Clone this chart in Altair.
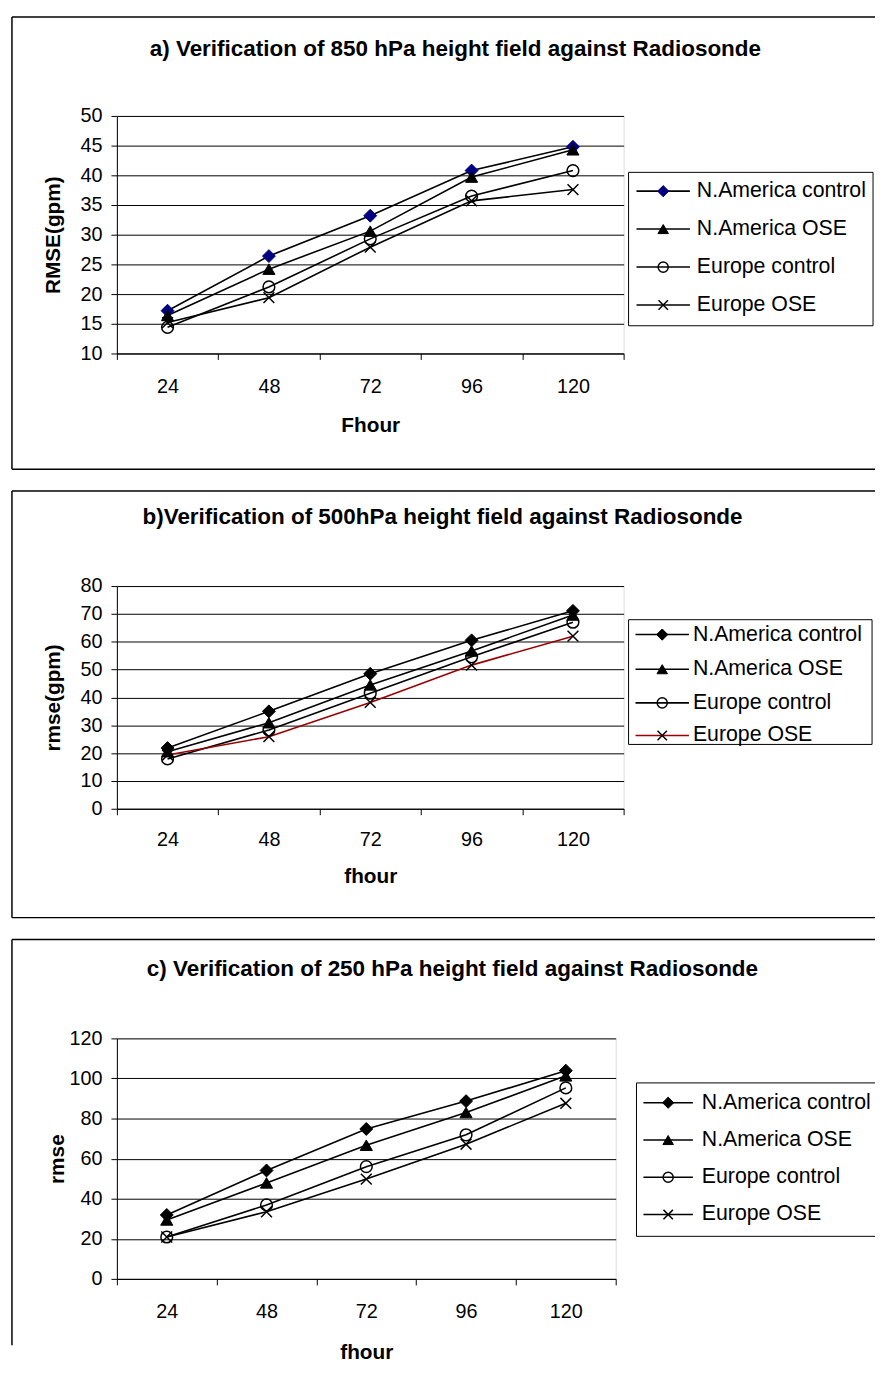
import altair as alt
import pandas as pd

FHOURS = [24, 48, 72, 96, 120]
SERIES = ["N.America control", "N.America OSE", "Europe control", "Europe OSE"]

# panel a: 850 hPa
A_NAM_CTRL = [17.2, 26.4, 33.2, 40.8, 44.8]
A_NAM_OSE = [16.4, 24.2, 30.6, 39.7, 44.3]
A_EUR_CTRL = [14.4, 21.2, 29.3, 36.5, 40.8]
A_EUR_OSE = [15.2, 19.4, 27.9, 35.7, 37.6]

# panel b: 500 hPa
B_NAM_CTRL = [21.8, 35.0, 48.5, 60.5, 71.1]
B_NAM_OSE = [20.5, 30.9, 44.5, 56.7, 69.6]
B_EUR_CTRL = [17.9, 28.3, 41.5, 54.6, 67.0]
B_EUR_OSE = [19.3, 25.9, 38.2, 51.6, 62.0]

# panel c: 250 hPa
C_NAM_CTRL = [31.9, 54.1, 74.8, 88.7, 103.9]
C_NAM_OSE = [29.4, 47.9, 66.7, 83.0, 101.3]
C_EUR_CTRL = [20.9, 36.9, 56.0, 71.9, 95.3]
C_EUR_OSE = [20.9, 33.5, 49.8, 67.2, 87.6]

TITLES = [
    "a) Verification of 850 hPa height field against Radiosonde",
    "b)Verification of 500hPa height field against Radiosonde",
    "c) Verification of 250 hPa height field against Radiosonde",
]
Y_TITLES = ["RMSE(gpm)", "rmse(gpm)", "rmse"]
X_TITLES = ["Fhour", "fhour", "fhour"]
Y_TICKS = [[10, 15, 20, 25, 30, 35, 40, 45, 50],
           [0, 10, 20, 30, 40, 50, 60, 70, 80],
           [0, 20, 40, 60, 80, 100, 120]]

FONT = "Liberation Sans"
NAVY = "#000080"
DARKRED = "#990000"
X_PATH = "M-1,-1L1,1M-1,1L1,-1"


def make_df(vals):
    rows = []
    for s, v in zip(SERIES, vals):
        for f, y in zip(FHOURS, v):
            rows.append({"fhour": f, "value": y, "series": s})
    return pd.DataFrame(rows)


def one():
    return pd.DataFrame({"k": [0]})


def marker_styles(diamond_color, scale=1.0):
    return [
        dict(shape="diamond", filled=True, fill=diamond_color, stroke=diamond_color,
             strokeWidth=1, size=170 * scale),
        dict(shape="triangle-up", filled=True, fill="black", stroke="black",
             strokeWidth=1, size=150 * scale),
        dict(shape="circle", filled=False, stroke="black", strokeWidth=1.5,
             size=140 * scale),
        dict(shape=X_PATH, filled=False, stroke="black", strokeWidth=1.5,
             size=120 * scale),
    ]


def hrule(x1, x2, yv, color="black", w=1.5):
    return alt.Chart(one()).mark_rule(color=color, strokeWidth=w).encode(
        x=alt.value(x1), x2=alt.value(x2), y=alt.value(yv))


def vrule(xv, y1, y2, color="black", w=1.5):
    return alt.Chart(one()).mark_rule(color=color, strokeWidth=w).encode(
        x=alt.value(xv), y=alt.value(y1), y2=alt.value(y2))


def panel(vals, idx, width, height, ydom, diamond_color, line_colors,
          leg_box, leg_rows, leg_line, leg_label_x, frame, title_xy,
          ytitle_x, xtitle_y, xlabel_pad):
    df = make_df(vals)
    x = alt.X(
        "fhour:O",
        bandPosition=0.5,
        scale=alt.Scale(type="band", domain=FHOURS, paddingInner=0, paddingOuter=0),
        axis=alt.Axis(
            title=X_TITLES[idx], labelAngle=0, tickBand="extent", grid=False,
            tickSize=6, labelPadding=xlabel_pad, labelFontSize=20, labelFont=FONT,
            titleFont=FONT, titleFontSize=21, titleFontWeight="bold",
            titleY=xtitle_y, titleBaseline="middle", domainColor="black",
            tickColor="black", labelColor="black", titleColor="black",
        ),
    )
    y = alt.Y(
        "value:Q",
        scale=alt.Scale(domain=ydom, nice=False, zero=False),
        axis=alt.Axis(
            title=Y_TITLES[idx], values=Y_TICKS[idx], grid=True, gridColor="black",
            gridWidth=1, tickSize=6, labelPadding=9, labelFontSize=20, labelFont=FONT,
            titleFont=FONT, titleFontSize=21, titleFontWeight="bold",
            titleX=ytitle_x, titleY=height / 2, titleAngle=-90, titleAlign="center",
            titleBaseline="middle", domainColor="black", tickColor="black",
            labelColor="black", titleColor="black",
        ),
    )
    base = alt.Chart(df)
    lines = base.mark_line(strokeWidth=1.6).encode(
        x=x, y=y,
        color=alt.Color("series:N", scale=alt.Scale(domain=SERIES, range=line_colors), legend=None),
    )
    styles = marker_styles(diamond_color)
    pts = [
        base.transform_filter(alt.datum.series == s).mark_point(opacity=1, **st).encode(x=x, y=y)
        for s, st in zip(SERIES, styles)
    ]

    # legend (box + line/marker/label per series)
    bx1, bx2, by1, by2, right_edge = leg_box
    legend = [
        alt.Chart(one()).mark_rect(fill="white", strokeWidth=0).encode(
            x=alt.value(bx1), x2=alt.value(bx2), y=alt.value(by1), y2=alt.value(by2)),
        hrule(bx1, bx2, by1, w=1), hrule(bx1, bx2, by2, w=1), vrule(bx1, by1, by2, w=1),
    ]
    if right_edge:
        legend.append(vrule(bx2, by1, by2, w=1))
    lx1, lx2 = leg_line
    mx = (lx1 + lx2) / 2
    lstyles = marker_styles(diamond_color, scale=0.75)
    for i, s in enumerate(SERIES):
        yv = leg_rows[i]
        legend.append(hrule(lx1, lx2, yv, color=line_colors[i], w=1.6))
        legend.append(alt.Chart(one()).mark_point(opacity=1, **lstyles[i]).encode(
            x=alt.value(mx), y=alt.value(yv)))
        legend.append(alt.Chart(one()).mark_text(
            text=s, font=FONT, fontSize=21.5, color="black", align="left",
            baseline="middle").encode(x=alt.value(leg_label_x), y=alt.value(yv)))

    left, right, top, bottom = frame
    fr = [hrule(left, right, top), vrule(left, top, bottom)]
    if idx < 2:
        fr.append(hrule(left, right, bottom))
    title = alt.Chart(one()).mark_text(
        text=TITLES[idx], font=FONT, fontSize=22.7, fontWeight="bold", color="black",
        align="center", baseline="middle",
    ).encode(x=alt.value(title_xy[0]), y=alt.value(title_xy[1]))
    return alt.layer(lines, *pts, *legend, *fr, title).properties(width=width, height=height)


pa = panel([A_NAM_CTRL, A_NAM_OSE, A_EUR_CTRL, A_EUR_OSE], 0, 512, 240, [10, 50], NAVY,
           ["black"] * 4,
           (517, 764, 57, 212, True), [76, 114.3, 152.7, 191], (525, 579), 586,
           (-106, 766, -100, 357), (342, -68), -64, 73, 17)
pb = panel([B_NAM_CTRL, B_NAM_OSE, B_EUR_CTRL, B_EUR_OSE], 1, 512, 225, [0, 80], "black",
           ["black", "black", "black", DARKRED],
           (517, 763, 34, 160, True), [49, 84, 118, 151], (524, 578), 582,
           (-106, 766, -96, 335), (329, -70), -64, 69, 15)
pc = panel([C_NAM_CTRL, C_NAM_OSE, C_EUR_CTRL, C_EUR_OSE], 2, 504, 243, [0, 120], "black",
           ["black"] * 4,
           (525, 766, 45, 200, False), [65, 102.7, 140.3, 178], (532, 582), 591,
           (-106, 766, -100, 310), (339, -70), -60, 74, 17)

chart = alt.vconcat(pa, pb, pc, spacing=18).resolve_scale(
    x="independent", y="independent", color="independent",
).properties(
    padding={"left": 2, "top": 0, "right": 0, "bottom": 0},
    background="white",
).configure_view(stroke="#808080", strokeWidth=1).configure(font=FONT)

chart.save("out.html", embed_options={"renderer": "svg", "actions": False})
